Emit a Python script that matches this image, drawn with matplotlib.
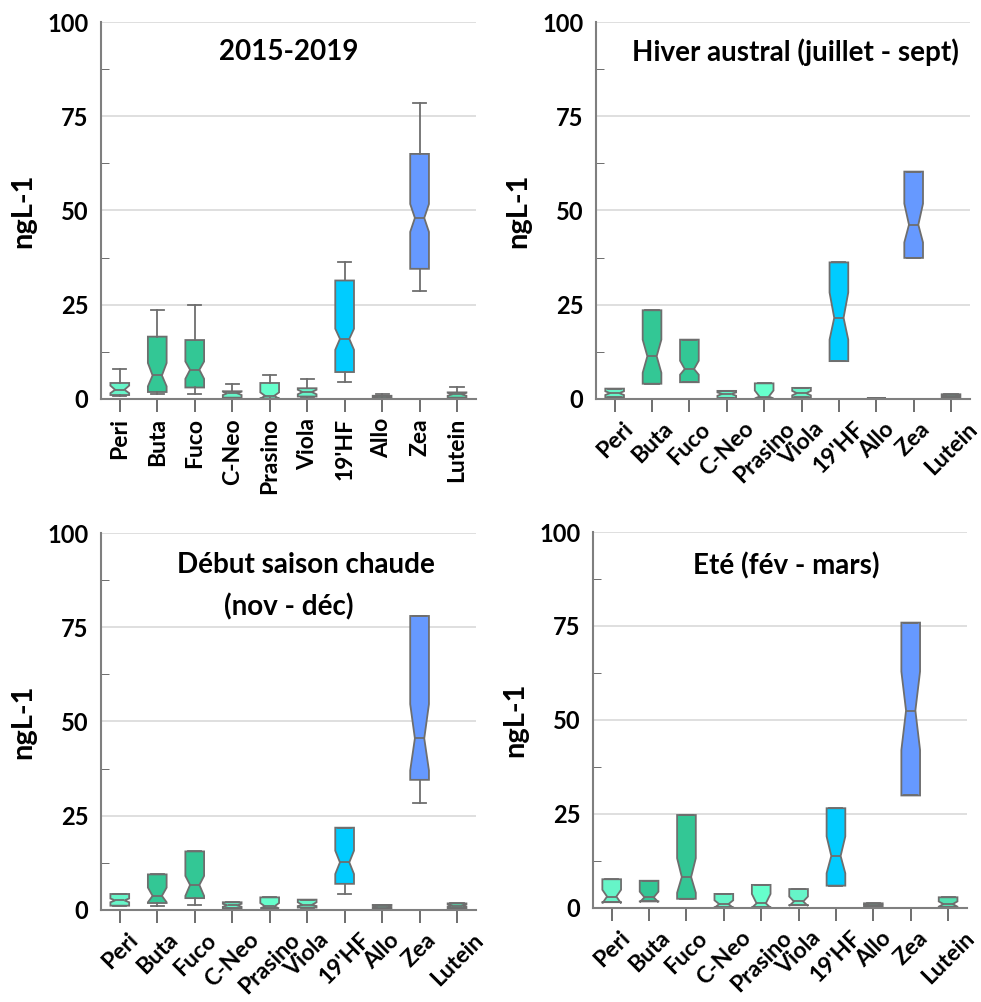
import numpy as np
import matplotlib
matplotlib.use("Agg")
from matplotlib import pyplot as plt

plt.rcParams['font.family'] = ['Lato', 'DejaVu Sans']

categories = ["Peri", "Buta", "Fuco", "C-Neo", "Prasino", "Viola", "19'HF", "Allo", "Zea", "Lutein"]
box_colors = ["#66F5C8", "#33C795", "#33C795", "#66F5C8", "#66FFCC", "#66F5C8",
              "#00CCFF", "#66F5C8", "#6699FF", "#55E0B0"]

# 2015-2019
a_whislo = [0.7, 1.2, 1.4, 0.0, 0.0, 0.3, 4.4, 0.0, 28.6, 0.0]
a_q1 = [1.0, 1.8, 3.0, 0.3, 0.1, 0.6, 7.1, 0.1, 34.5, 0.3]
a_med = [2.4, 6.2, 7.7, 1.5, 0.8, 1.8, 15.9, 0.4, 48.0, 1.2]
a_q3 = [4.2, 16.5, 15.6, 2.0, 4.2, 2.8, 31.4, 0.8, 65.0, 1.7]
a_whishi = [7.8, 23.6, 25.0, 3.9, 6.4, 5.3, 36.2, 1.3, 78.5, 3.2]
a_cilo = [1.5, 3.3, 5.3, 1.0, 0.0, 1.2, 13.0, 0.2, 44.3, 0.8]
a_cihi = [3.5, 9.5, 9.9, 1.9, 1.7, 2.4, 18.6, 0.6, 51.7, 1.6]

# Hiver austral
b_q1 = [0.4, 4.0, 4.4, 0.2, 0.1, 0.4, 10.0, 0.0, 37.4, 0.4]
b_med = [1.5, 11.3, 7.9, 1.3, 0.6, 1.5, 21.5, 0.1, 46.2, 0.8]
b_q3 = [2.7, 23.5, 15.7, 2.1, 4.1, 2.9, 36.2, 0.2, 60.3, 1.2]
b_cilo = [1.0, 6.9, 6.4, 0.8, 0.1, 0.9, 15.7, 0.0, 41.5, 0.6]
b_cihi = [2.0, 15.7, 10.1, 1.7, 2.2, 2.1, 28.2, 0.2, 51.8, 1.0]

# Debut saison chaude
c_whislo = [1.1, 1.0, 1.3, 0.4, 0.4, 0.6, 4.3, 0.3, 28.3, 0.4]
c_q1 = [1.1, 1.8, 3.1, 0.4, 0.4, 0.6, 6.9, 0.3, 34.5, 0.4]
c_med = [2.5, 3.7, 6.6, 1.2, 0.9, 1.3, 12.6, 0.7, 45.5, 1.1]
c_q3 = [4.2, 9.4, 15.5, 2.0, 3.3, 2.7, 21.8, 1.3, 78.0, 1.7]
c_cilo = [2.0, 2.0, 3.7, 0.8, 0.4, 1.0, 9.5, 0.5, 37.0, 0.8]
c_cihi = [3.0, 5.9, 9.0, 1.6, 1.8, 2.0, 15.7, 1.0, 54.6, 1.4]

# Ete
d_q1 = [1.5, 1.7, 2.4, 0.1, 0.1, 0.7, 5.9, 0.4, 29.9, 0.2]
d_med = [3.0, 2.8, 8.2, 1.0, 1.2, 1.7, 13.8, 0.8, 52.5, 1.0]
d_q3 = [7.6, 7.2, 24.7, 3.7, 6.1, 5.0, 26.5, 1.2, 75.9, 2.8]
d_cilo = [1.2, 1.5, 4.0, 0.0, 0.0, 0.5, 9.2, 0.6, 42.0, 0.3]
d_cihi = [4.8, 4.3, 13.2, 2.0, 3.7, 3.0, 19.0, 1.0, 62.9, 1.7]


def make_stats(whislo, q1, med, q3, whishi, cilo, cihi):
    stats = []
    for i in range(len(categories)):
        stats.append(dict(whislo=whislo[i], q1=q1[i], med=med[i], q3=q3[i],
                          whishi=whishi[i], cilo=cilo[i], cihi=cihi[i], fliers=[]))
    return stats


def draw_panel(rect, stats, rot):
    ax = fig.add_axes(rect)
    edge = "#6E6E6E"
    bp = ax.bxp(stats, positions=np.arange(1, 11), widths=0.5, shownotches=True,
                patch_artist=True, showfliers=False, capwidths=0.35,
                boxprops=dict(edgecolor=edge, linewidth=1.3),
                medianprops=dict(color=edge, linewidth=1.3),
                whiskerprops=dict(color=edge, linewidth=1.3),
                capprops=dict(color=edge, linewidth=1.3))
    for patch, c in zip(bp['boxes'], box_colors):
        patch.set_facecolor(c)

    ax.set_xlim(0.5, 10.5)
    ax.set_ylim(0, 100)
    ax.set_yticks([0, 25, 50, 75, 100])
    ax.set_yticks([12.5, 37.5, 62.5, 87.5], minor=True)
    ax.yaxis.grid(True, color="#D9D9D9", linewidth=1.2)
    ax.set_axisbelow(True)
    for s in ['top', 'right']:
        ax.spines[s].set_visible(False)
    for s in ['left', 'bottom']:
        ax.spines[s].set_color("#7F7F7F")
        ax.spines[s].set_linewidth(1.5)
    ax.tick_params(axis='y', which='major', length=0, pad=9, labelsize=17)
    ax.tick_params(axis='y', which='minor', direction='in', length=6, color="#555555")
    ax.tick_params(axis='x', length=9, color="#555555", width=1.2, labelsize=16.5, pad=5)
    for lab in ax.get_yticklabels():
        lab.set_fontweight('bold')
    if rot == 90:
        ax.set_xticklabels(categories, rotation=90, fontweight='bold')
    else:
        ax.set_xticklabels(categories, rotation=45, ha='center', fontweight='bold')
    ax.set_ylabel("ngL-1", fontsize=21, fontweight='bold', labelpad=8)
    return ax


fig = plt.figure(figsize=(9.81, 10.02), dpi=100)

ax1 = draw_panel([0.103, 0.602, 0.382, 0.376],
                 make_stats(a_whislo, a_q1, a_med, a_q3, a_whishi, a_cilo, a_cihi), 90)
ax1.text(0.50, 0.92, "2015-2019", transform=ax1.transAxes, ha='center', va='center',
         fontsize=20, fontweight='bold')

ax2 = draw_panel([0.6075, 0.602, 0.381, 0.376],
                 make_stats(b_q1, b_q1, b_med, b_q3, b_q3, b_cilo, b_cihi), 45)
ax2.text(0.535, 0.92, "Hiver austral (juillet - sept)", transform=ax2.transAxes,
         ha='center', va='center', fontsize=20, fontweight='bold')

ax3 = draw_panel([0.103, 0.092, 0.382, 0.376],
                 make_stats(c_whislo, c_q1, c_med, c_q3, c_q3, c_cilo, c_cihi), 45)
ax3.text(0.547, 0.915, "Début saison chaude", transform=ax3.transAxes,
         ha='center', va='center', fontsize=20, fontweight='bold')
ax3.text(0.50, 0.804, "(nov - déc)", transform=ax3.transAxes,
         ha='center', va='center', fontsize=20, fontweight='bold')

ax4 = draw_panel([0.6045, 0.094, 0.381, 0.375],
                 make_stats(d_q1, d_q1, d_med, d_q3, d_q3, d_cilo, d_cihi), 45)
ax4.text(0.516, 0.91, "Eté (fév - mars)", transform=ax4.transAxes,
         ha='center', va='center', fontsize=20, fontweight='bold')

fig.savefig("out.png", dpi=100)
